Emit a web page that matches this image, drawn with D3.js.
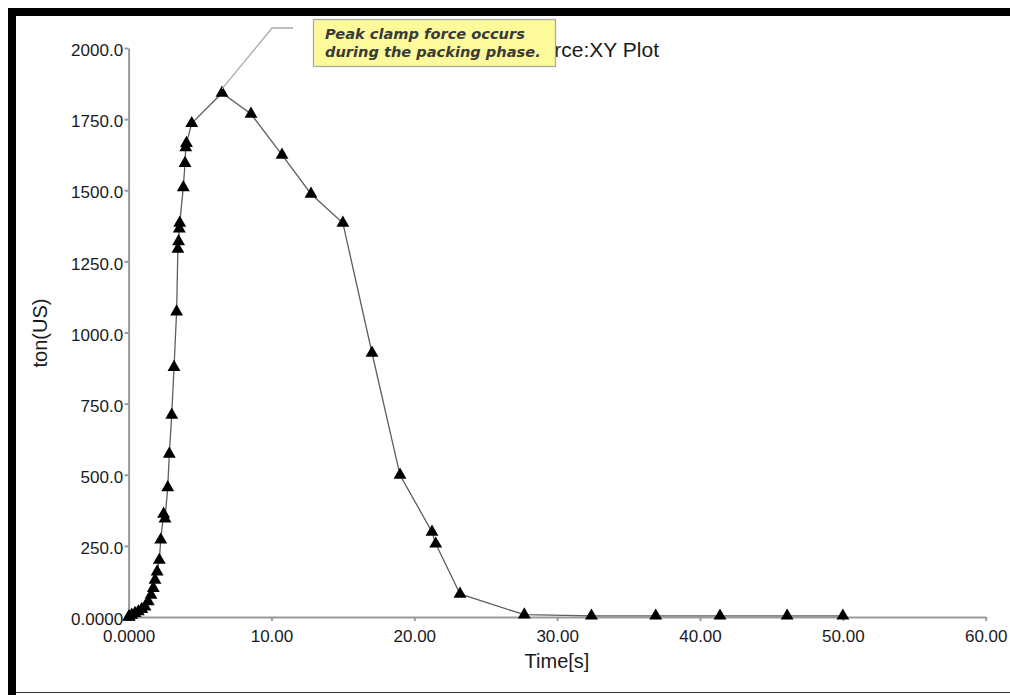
<!DOCTYPE html>
<html lang="en">
<head>
  <title>Clamp force XY Plot</title>
  <meta charset="utf-8">
  <script src="https://d3js.org/d3.v7.min.js" charset="utf-8"></script>
  <style>
    body { margin: 0; background: #fff; }
  </style>
</head>
<body>
<script>
// time [s] and clamp force [ton(US)]
var timeS = [0, 0.05, 0.22, 0.45, 0.68, 0.92, 1.15, 1.38, 1.57, 1.73, 1.85, 2.0, 2.15, 2.25,
  2.45, 2.55, 2.74, 2.85, 3.02, 3.18, 3.36, 3.45, 3.5, 3.55, 3.58, 3.83, 3.95, 4.0, 4.05,
  4.42, 6.54, 8.57, 10.74, 12.77, 15.0, 17.04, 19.0, 21.24, 21.5, 23.2, 27.7,
  32.4, 36.9, 41.4, 46.1, 50.0];
var clampTon = [0, 1, 7, 13, 19, 27, 36, 54, 77, 101, 130, 159, 200, 271,
  362, 345, 455, 573, 710, 878, 1073, 1293, 1320, 1365, 1385, 1510, 1595, 1650, 1665,
  1735, 1842, 1768, 1624, 1487, 1385, 928, 499, 299, 257, 81, 8,
  4, 4, 4, 4, 4];

var xTicks = [0, 10, 20, 30, 40, 50, 60];
var xTickLabels = ["0.0000", "10.00", "20.00", "30.00", "40.00", "50.00", "60.00"];
var yTicks = [0, 250, 500, 750, 1000, 1250, 1500, 1750, 2000];
var yTickLabels = ["0.0000", "250.0", "500.0", "750.0", "1000.0", "1250.0", "1500.0", "1750.0", "2000.0"];

var chartTitle = "Clamp force:XY Plot";
var noteLines = ["Peak clamp force occurs", "during the packing phase."];

var w = 1010, h = 695;
var font = "'Liberation Sans', Arial, sans-serif";

var svg = d3.select("body").append("svg")
  .attr("width", w)
  .attr("height", h);

// frame around the picture
svg.append("rect").attr("x", 8).attr("y", 8).attr("width", w - 8).attr("height", 8).attr("fill", "#000");
svg.append("rect").attr("x", 8).attr("y", 8).attr("width", 8).attr("height", h - 8).attr("fill", "#000");
svg.append("line").attr("x1", 16).attr("x2", w).attr("y1", 692.5).attr("y2", 692.5)
  .attr("stroke", "#333").attr("stroke-width", 1.2);

var x = d3.scaleLinear().domain([0, 60]).range([128.6, 985.7]);
var y = d3.scaleLinear().domain([0, 2000]).range([617, 48]);

var xAxis = d3.axisBottom(x)
  .tickValues(xTicks)
  .tickFormat(function (d, i) { return xTickLabels[i]; })
  .tickSize(4).tickSizeOuter(0).tickPadding(9);

var yAxis = d3.axisLeft(y)
  .tickValues(yTicks)
  .tickFormat(function (d, i) { return yTickLabels[i]; })
  .tickSize(4).tickSizeOuter(0).tickPadding(1.5);

var gx = svg.append("g").attr("transform", "translate(0," + y(0) + ")").call(xAxis);
var gy = svg.append("g").attr("transform", "translate(" + x(0) + ",0)").call(yAxis);

[gx, gy].forEach(function (g) {
  g.selectAll("path, line").attr("stroke", "#9a9a9a").attr("stroke-width", 2);
  g.selectAll("text").attr("fill", "#1a1a1a").style("font-family", font).style("font-size", "17px");
});
gy.selectAll("text").attr("dy", "0.45em");

// axis titles
svg.append("text")
  .attr("x", 557).attr("y", 668)
  .attr("text-anchor", "middle")
  .style("font-family", font).style("font-size", "20px").attr("fill", "#1a1a1a")
  .text("Time[s]");

svg.append("text")
  .attr("transform", "translate(47,333) rotate(-90)")
  .attr("text-anchor", "middle")
  .style("font-family", font).style("font-size", "20px").attr("fill", "#1a1a1a")
  .text("ton(US)");

// title sits partly under the callout box, as in the original
svg.append("text")
  .attr("x", 659).attr("y", 57)
  .attr("text-anchor", "end")
  .style("font-family", font).style("font-size", "21px").attr("fill", "#1a1a1a")
  .text(chartTitle);

// the curve
var pts = timeS.map(function (t, i) { return [t, clampTon[i]]; });

svg.append("path")
  .datum(pts)
  .attr("fill", "none")
  .attr("stroke", "#5e5e5e")
  .attr("stroke-width", 1.3)
  .attr("d", d3.line().x(function (d) { return x(d[0]); }).y(function (d) { return y(d[1]); }));

svg.selectAll("path.mark")
  .data(pts)
  .enter()
  .append("path")
  .attr("class", "mark")
  .attr("transform", function (d) { return "translate(" + x(d[0]) + "," + y(d[1]) + ")"; })
  .attr("d", d3.symbol().type(d3.symbolTriangle).size(72))
  .attr("fill", "#000");

// callout pointing at the peak
var peak = pts[d3.maxIndex(pts, function (d) { return d[1]; })];
svg.append("polyline")
  .attr("points", [[x(peak[0]), y(peak[1]) - 4], [272, 28], [293, 28]].join(" "))
  .attr("fill", "none")
  .attr("stroke", "#aaa")
  .attr("stroke-width", 1.3);

svg.append("rect")
  .attr("x", 313.5).attr("y", 19.5)
  .attr("width", 242).attr("height", 47)
  .attr("fill", "#fdfa9c")
  .attr("stroke", "#aaa")
  .attr("stroke-width", 1.3);

svg.selectAll("text.note")
  .data(noteLines)
  .enter()
  .append("text")
  .attr("class", "note")
  .attr("x", 325)
  .attr("y", function (d, i) { return 38.5 + i * 18; })
  .style("font-family", "'DejaVu Sans', Verdana, sans-serif")
  .style("font-size", "14.6px")
  .style("font-weight", "bold")
  .style("font-style", "italic")
  .attr("fill", "#3a3a3a")
  .text(function (d) { return d; });
</script>
</body>
</html>
